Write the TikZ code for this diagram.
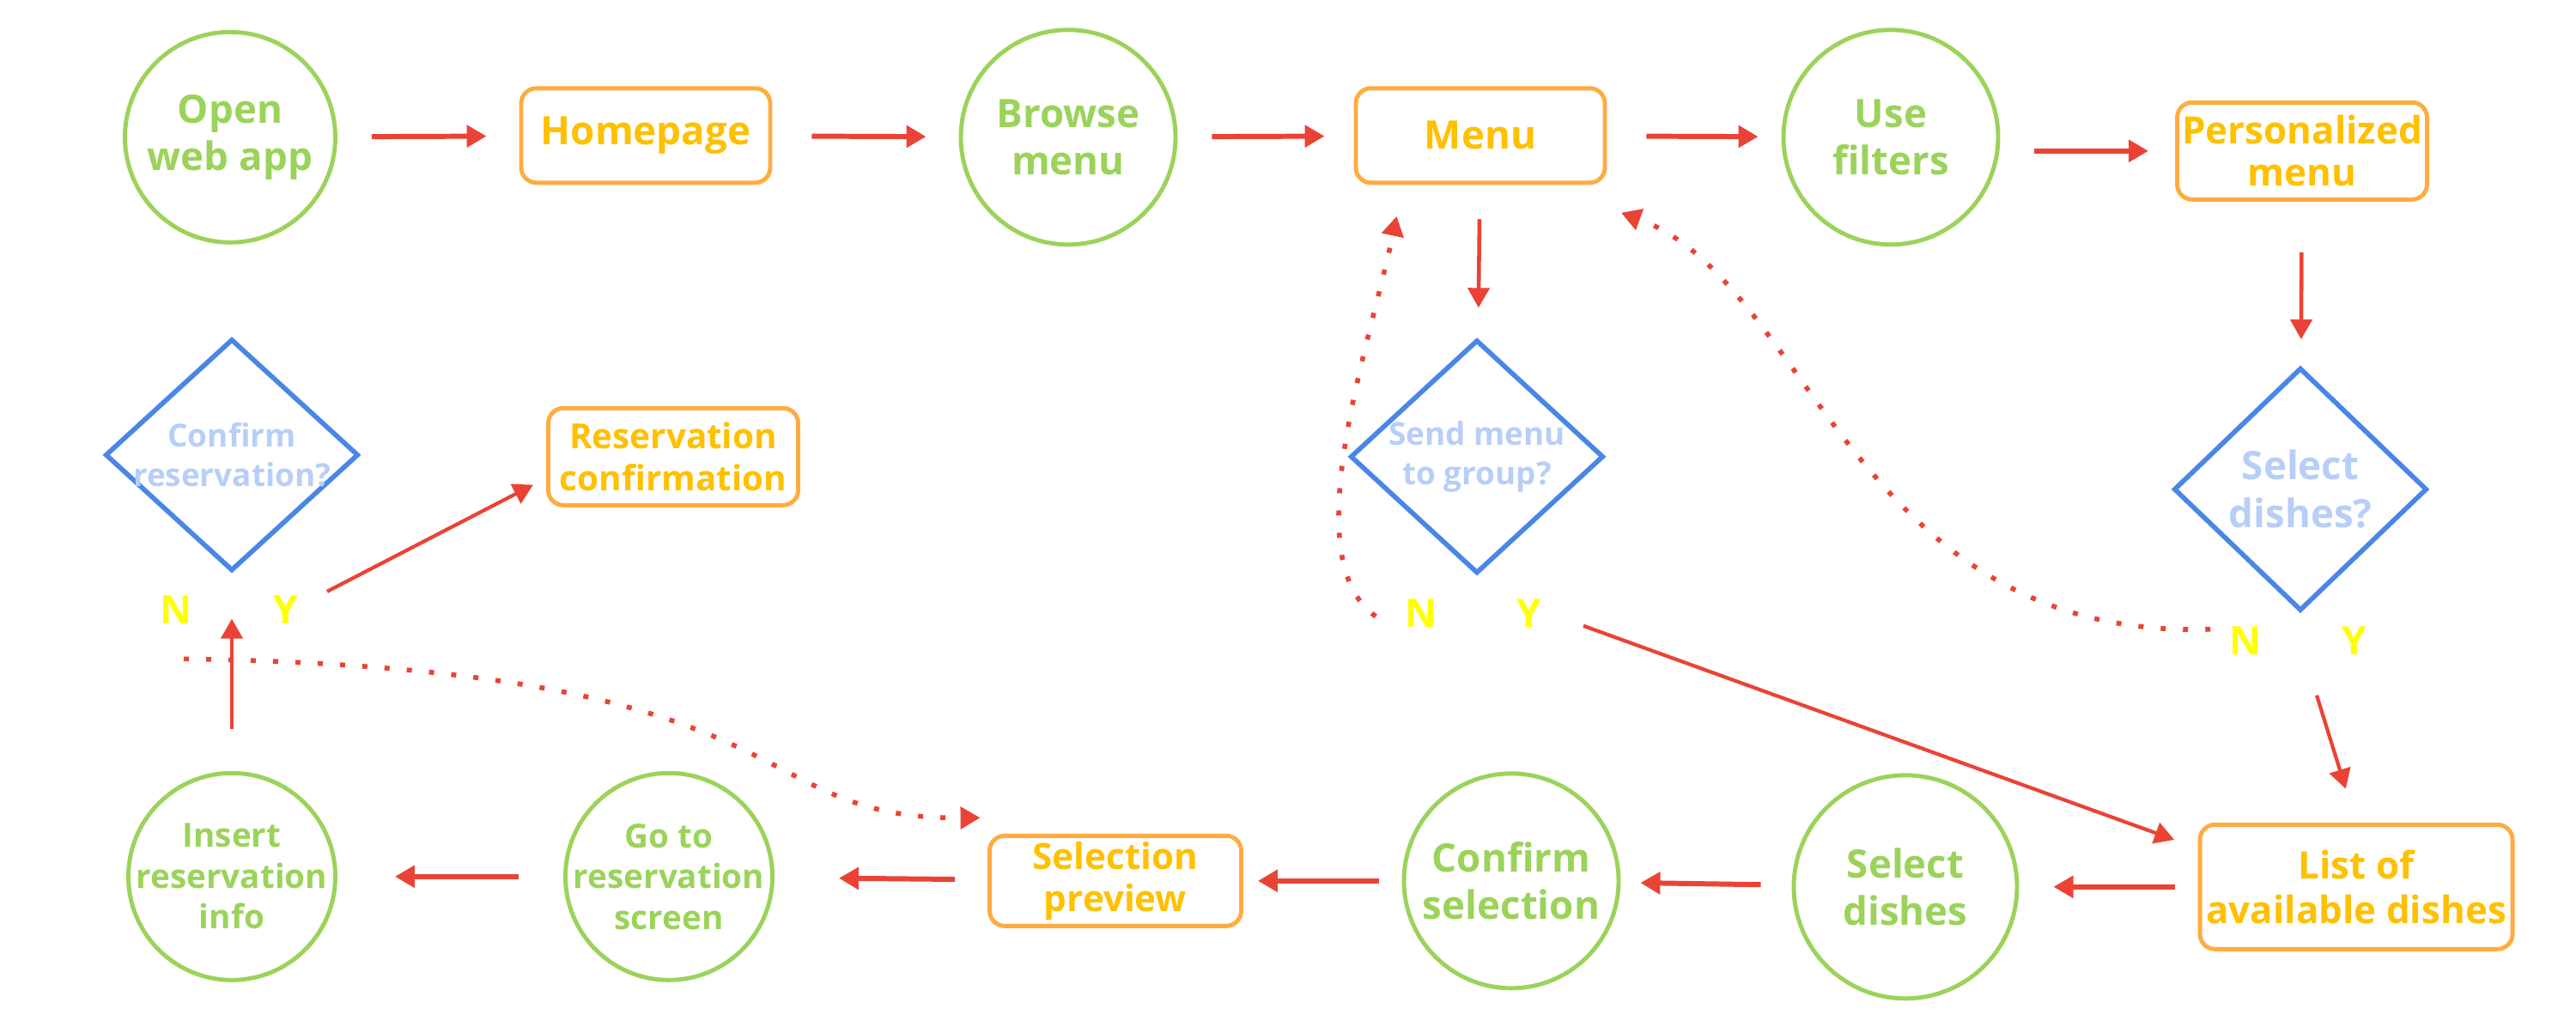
\documentclass[tikz,border=0pt]{standalone}
\usepackage{fontspec}
\setmainfont{Open Sans}
\usetikzlibrary{shapes.geometric,arrows.meta}
\definecolor{stepgreen}{HTML}{9BD35A}
\definecolor{boxorange}{HTML}{FFAB40}
\definecolor{textorange}{HTML}{FFC000}
\definecolor{askblue}{HTML}{4A86E8}
\definecolor{asktext}{HTML}{B7CEF8}
\definecolor{flowred}{HTML}{EA4335}
\definecolor{ansyellow}{HTML}{FFFF00}
\begin{document}
\begin{tikzpicture}[x=1cm,y=1cm,>={Triangle[length=.23cm,width=.25cm]},
  act/.style={circle,draw=stepgreen,line width=1.4pt,text=stepgreen,align=center,inner sep=-4mm,minimum size=2.45cm,font=\bfseries\fontsize{13}{15.5}\selectfont},
  screen/.style={draw=boxorange,line width=1.4pt,rounded corners=5pt,text=textorange,align=center,inner sep=0pt,minimum width=2.9cm,minimum height=1.1cm,font=\bfseries\fontsize{13}{15.5}\selectfont},
  ask/.style={diamond,draw=askblue,line width=1.6pt,text=asktext,align=center,inner sep=-3mm,minimum width=2.95cm,minimum height=2.72cm,font=\bfseries\fontsize{10.5}{13}\selectfont},
  ans/.style={text=ansyellow,inner sep=1pt,font=\bfseries\fontsize{13}{15}\selectfont},
  flow/.style={->,draw=flowred,fill=flowred,line width=1.7pt},
  back/.style={->,draw=flowred,line width=1.6pt,dash pattern=on 1.7pt off 5.7pt}]
\useasboundingbox (0,0) rectangle (30,11.958);
% top row
\node[act] (open) at (2.68,10.36) {Open\\web app};
\node[screen] (home) at (7.52,10.38) {Homepage};
\node[act,minimum size=2.5cm] (browse) at (12.44,10.36) {Browse\\menu};
\node[screen] (menu) at (17.24,10.38) {Menu};
\node[act,minimum size=2.5cm] (filters) at (22.02,10.36) {Use\\filters};
\node[screen,minimum width=2.91cm,minimum height=1.13cm,font=\bfseries\fontsize{12.5}{14}\selectfont] (pers) at (26.81,10.20) {Personalized\\menu};
\draw[flow,shorten <=.40cm,shorten >=.38cm] (open) -- (home);
\draw[flow,shorten <=.46cm,shorten >=.38cm] (home) -- (browse);
\draw[flow,shorten <=.40cm,shorten >=.34cm] (browse) -- (menu);
\draw[flow,shorten <=.46cm,shorten >=.27cm] (menu) -- (filters);
\draw[flow,shorten <=.40cm,shorten >=.31cm] (filters.east |- pers.west) -- (pers.west);
% decisions
\node[ask] (send) at (17.2,6.64) {Send menu\\to group?};
\node[ask,minimum height=2.83cm,font=\bfseries\fontsize{13}{16}\selectfont] (sel) at (26.79,6.26) {Select\\dishes?};
\node[ask,minimum height=2.7cm] (conf) at (2.70,6.66) {Confirm\\reservation?};
\node[screen,minimum width=2.91cm,minimum height=1.13cm,font=\bfseries\fontsize{11.5}{14}\selectfont] (resconf) at (7.84,6.64) {Reservation\\confirmation};
\node[ans] (confN) at (2.05,4.86) {N};\node[ans] (confY) at (3.33,4.86) {Y};
\node[ans] (sendN) at (16.55,4.82) {N};\node[ans] (sendY) at (17.81,4.82) {Y};
\node[ans] (selN) at (26.15,4.50) {N};\node[ans] (selY) at (27.42,4.50) {Y};
\draw[flow,line width=1.3pt,shorten <=.40cm,shorten >=.36cm] (menu) -- (send);
\draw[flow,line width=1.3pt,shorten <=.59cm,shorten >=.31cm] (pers) -- (sel);
% bottom row
\node[screen,minimum width=3.64cm,minimum height=1.45cm,font=\bfseries\fontsize{12.5}{15}\selectfont] (list) at (27.44,1.63) {List of\\available dishes};
\node[act,minimum size=2.6cm] (seld) at (22.19,1.63) {Select\\dishes};
\node[act,minimum size=2.5cm] (confsel) at (17.60,1.70) {Confirm\\selection};
\node[screen,minimum width=2.93cm,minimum height=1.05cm,font=\bfseries\fontsize{12}{14}\selectfont] (prev) at (12.99,1.70) {Selection\\preview};
\node[act,minimum size=2.41cm,font=\bfseries\fontsize{11}{13.5}\selectfont] (goto) at (7.79,1.75) {Go to\\reservation\\screen};
\node[act,minimum size=2.41cm,font=\bfseries\fontsize{11}{13.5}\selectfont] (insert) at (2.70,1.75) {Insert\\reservation\\info};
\draw[flow,shorten <=.27cm,shorten >=.40cm] (list) -- (seld);
\draw[flow,shorten <=.36cm,shorten >=.23cm] (seld) -- (confsel);
\draw[flow,shorten <=.27cm,shorten >=.17cm] (confsel) -- (prev);
\draw[flow,shorten <=.38cm,shorten >=.75cm] (prev) -- (goto);
\draw[flow,shorten <=.52cm,shorten >=.67cm] (goto) -- (insert);
\draw[flow,line width=1.3pt,shorten <=.49cm,shorten >=.53cm] (insert) -- (conf);
% answers
\draw[flow,line width=1.2pt,shorten >=.17cm] ([xshift=.48cm,yshift=.21cm]confY.center) -- ([yshift=-.25cm]resconf.west);
\draw[flow,line width=1.2pt,shorten >=.29cm] ([xshift=.63cm,yshift=-.15cm]sendY.center) -- ([yshift=-.3cm]list.north west);
\draw[flow,line width=1.2pt,shorten >=.41cm] ([xshift=-.44cm,yshift=-.64cm]selY.center) -- (list.north);
\draw[back] ([xshift=-.3cm,yshift=-.04cm]sendN.west) .. controls +(-0.95,0.67) and +(-0.32,-1.53) .. ([xshift=.5cm,yshift=-.365cm]menu.south west);
\draw[back] ([xshift=-.18cm,yshift=.13cm]selN.west) .. controls +(-4.17,-0.13) and +(2.2,-0.8) .. ([xshift=.165cm,yshift=-.325cm]menu.south east);
\draw[back] ([xshift=.09cm,yshift=-.37cm]confN.south) .. controls +(7.43,-0.11) and +(-2.83,-0.02) .. ([xshift=-.085cm,yshift=.185cm]prev.north west);
\end{tikzpicture}
\end{document}
